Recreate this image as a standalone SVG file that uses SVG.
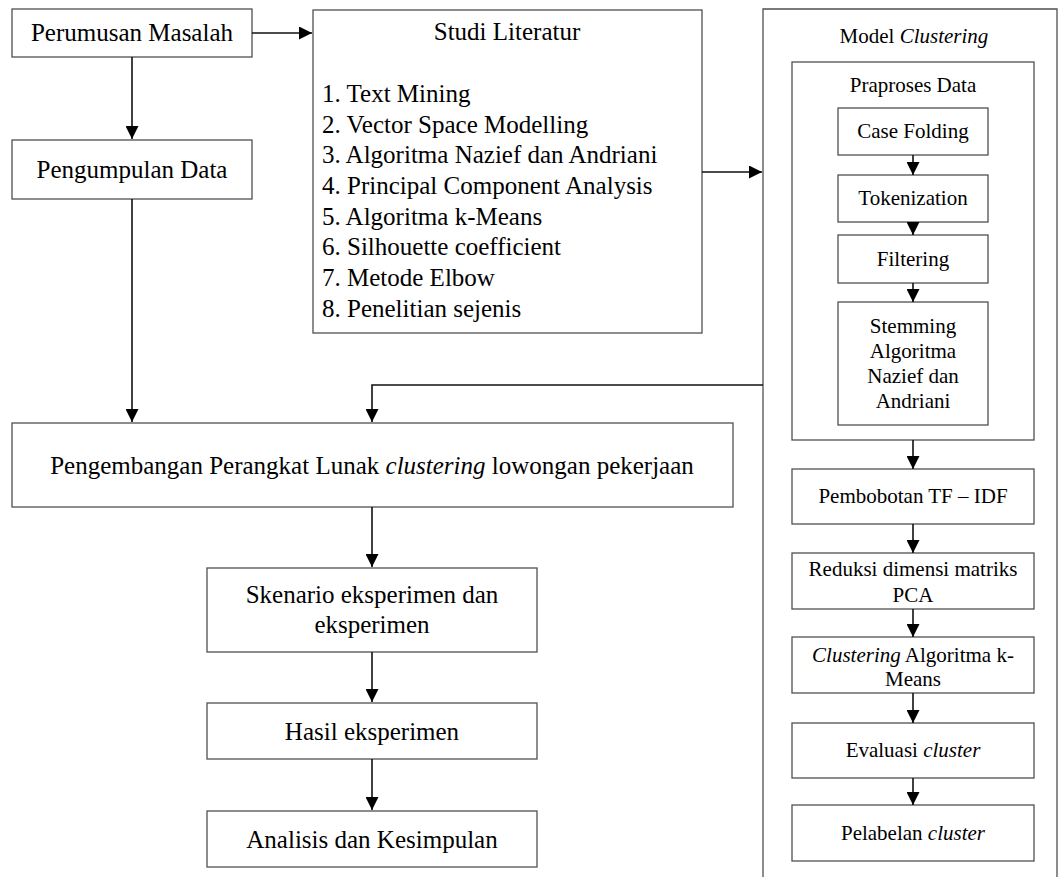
<svg xmlns="http://www.w3.org/2000/svg" width="1059" height="877" viewBox="0 0 1059 877">
<style>
.box{fill:#fff;stroke:#505050;stroke-width:1.3}
.t{font-family:"Liberation Serif","Times New Roman",serif;fill:#000}
.l{font-size:25px}
.s{font-size:21px}
.c{text-anchor:middle}
.i{font-style:italic}
.con{fill:none;stroke:#111;stroke-width:1.6}
</style>
<defs>
<marker id="ah" viewBox="0 0 10 10" refX="10" refY="5" markerWidth="13" markerHeight="13" preserveAspectRatio="none" markerUnits="userSpaceOnUse" orient="auto">
<path d="M0,0 L10,5 L0,10 z" fill="#000"/>
</marker>
</defs>
<rect width="1059" height="877" fill="#fff"/>

<g id="model">
<path class="box" d="M763,880 V9 H1057 V880"/>
<text class="t s c" x="914" y="43">Model <tspan class="i">Clustering</tspan></text>
</g>
<g id="praproses">
<rect class="box" x="792" y="62" width="242" height="378"/>
<text class="t s c" x="913" y="92">Praproses Data</text>
</g>
<g id="casefolding">
<rect class="box" x="838" y="108" width="150" height="47"/>
<text class="t s c" x="913" y="138">Case Folding</text>
</g>
<g id="tokenization">
<rect class="box" x="838" y="175" width="150" height="47"/>
<text class="t s c" x="913" y="205">Tokenization</text>
</g>
<g id="filtering">
<rect class="box" x="838" y="235" width="150" height="48"/>
<text class="t s c" x="913" y="266">Filtering</text>
</g>
<g id="stemming">
<rect class="box" x="838" y="302" width="150" height="123"/>
<text class="t s c" x="913" y="333">Stemming</text>
<text class="t s c" x="913" y="358">Algoritma</text>
<text class="t s c" x="913" y="383">Nazief dan</text>
<text class="t s c" x="913" y="408">Andriani</text>
</g>
<g id="pembobotan">
<rect class="box" x="792" y="469" width="242" height="55"/>
<text class="t s c" x="913" y="503">Pembobotan TF – IDF</text>
</g>
<g id="reduksi">
<rect class="box" x="792" y="553" width="242" height="56"/>
<text class="t s c" x="913" y="576">Reduksi dimensi matriks</text>
<text class="t s c" x="913" y="602">PCA</text>
</g>
<g id="kmeans">
<rect class="box" x="792" y="637" width="242" height="56"/>
<text class="t s c" x="913" y="662"><tspan class="i">Clustering</tspan> Algoritma k-</text>
<text class="t s c" x="913" y="686">Means</text>
</g>
<g id="evaluasi">
<rect class="box" x="792" y="723" width="242" height="55"/>
<text class="t s c" x="913" y="757">Evaluasi <tspan class="i">cluster</tspan></text>
</g>
<g id="pelabelan">
<rect class="box" x="792" y="805" width="242" height="56"/>
<text class="t s c" x="913" y="840">Pelabelan <tspan class="i">cluster</tspan></text>
</g>

<g id="perumusan">
<rect class="box" x="12" y="9" width="240" height="48"/>
<text class="t l c" x="132" y="41">Perumusan Masalah</text>
</g>
<g id="pengumpulan">
<rect class="box" x="12" y="140" width="240" height="59"/>
<text class="t l c" x="132" y="178">Pengumpulan Data</text>
</g>
<g id="studi">
<rect class="box" x="313" y="10" width="389" height="323"/>
<text class="t l c" x="507" y="40">Studi Literatur</text>
<text class="t l" x="322" y="102">1. Text Mining</text>
<text class="t l" x="322" y="133">2. Vector Space Modelling</text>
<text class="t l" x="322" y="163">3. Algoritma Nazief dan Andriani</text>
<text class="t l" x="322" y="194">4. Principal Component Analysis</text>
<text class="t l" x="322" y="225">5. Algoritma k-Means</text>
<text class="t l" x="322" y="255">6. Silhouette coefficient</text>
<text class="t l" x="322" y="286">7. Metode Elbow</text>
<text class="t l" x="322" y="317">8. Penelitian sejenis</text>
</g>
<g id="pengembangan">
<rect class="box" x="12" y="423" width="721" height="84"/>
<text class="t l c" x="372" y="474">Pengembangan Perangkat Lunak <tspan class="i">clustering</tspan> lowongan pekerjaan</text>
</g>
<g id="skenario">
<rect class="box" x="207" y="568" width="330" height="84"/>
<text class="t l c" x="372" y="603">Skenario eksperimen dan</text>
<text class="t l c" x="372" y="633">eksperimen</text>
</g>
<g id="hasil">
<rect class="box" x="207" y="703" width="330" height="56"/>
<text class="t l c" x="372" y="740">Hasil eksperimen</text>
</g>
<g id="analisis">
<rect class="box" x="207" y="811" width="330" height="56"/>
<text class="t l c" x="372" y="848">Analisis dan Kesimpulan</text>
</g>

<g id="connectors">
<path class="con" d="M252,33 H312" marker-end="url(#ah)"/>
<path class="con" d="M132,57 V139" marker-end="url(#ah)"/>
<path class="con" d="M132,199 V422" marker-end="url(#ah)"/>
<path class="con" d="M702,172 H762" marker-end="url(#ah)"/>
<path class="con" d="M763,385 H372 V422" marker-end="url(#ah)"/>
<path class="con" d="M372,507 V567" marker-end="url(#ah)"/>
<path class="con" d="M372,652 V702" marker-end="url(#ah)"/>
<path class="con" d="M372,759 V810" marker-end="url(#ah)"/>
<path class="con" d="M913,155 V175" marker-end="url(#ah)"/>
<path class="con" d="M913,222 V235" marker-end="url(#ah)"/>
<path class="con" d="M913,283 V302" marker-end="url(#ah)"/>
<path class="con" d="M913,440 V469" marker-end="url(#ah)"/>
<path class="con" d="M913,524 V553" marker-end="url(#ah)"/>
<path class="con" d="M913,609 V637" marker-end="url(#ah)"/>
<path class="con" d="M913,693 V723" marker-end="url(#ah)"/>
<path class="con" d="M913,778 V805" marker-end="url(#ah)"/>
</g>
</svg>
